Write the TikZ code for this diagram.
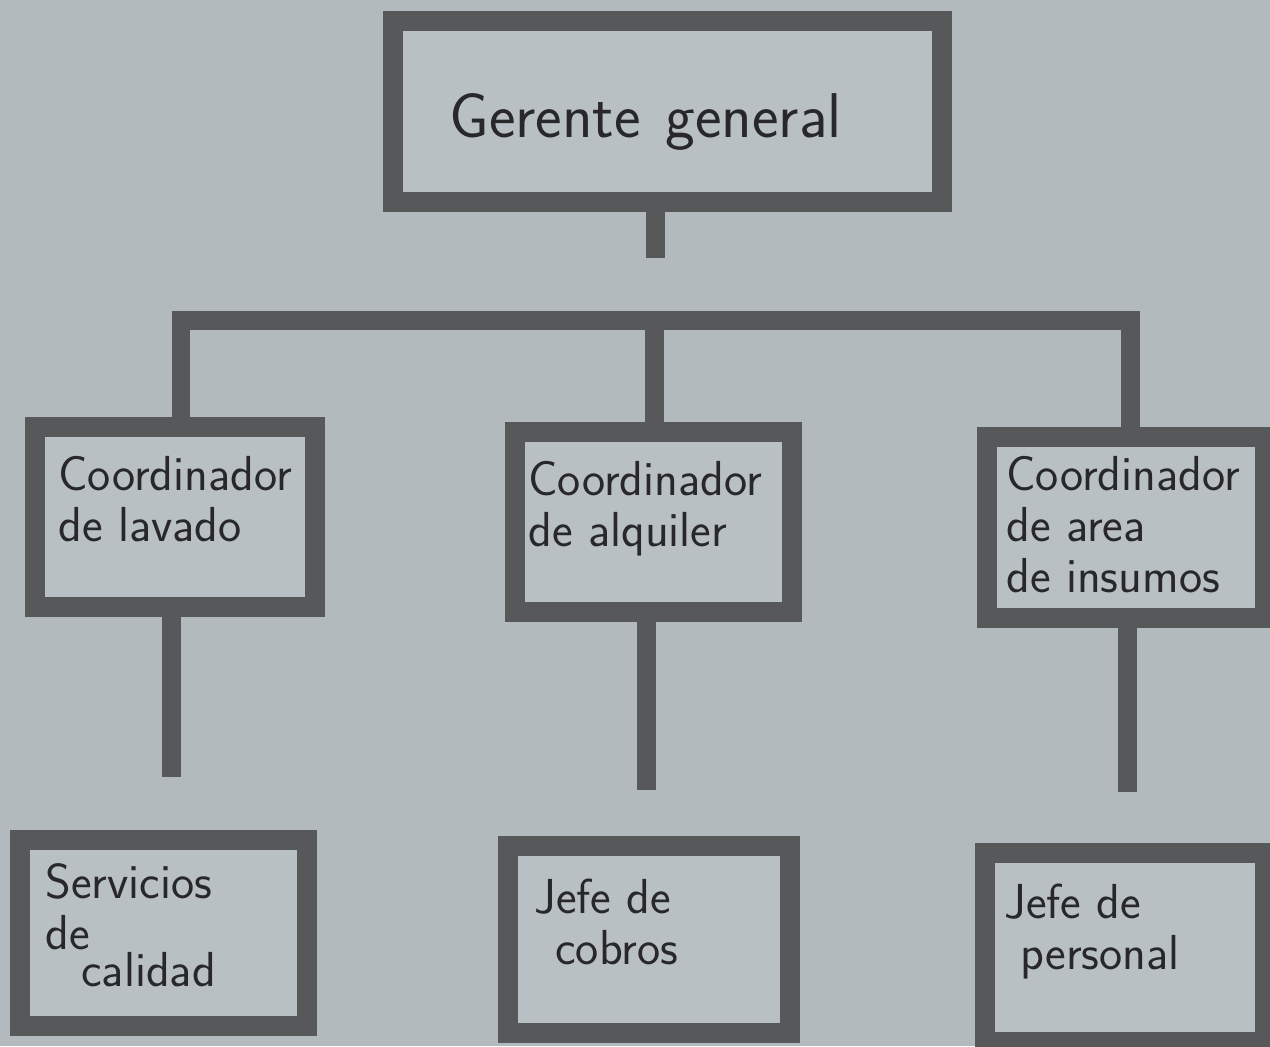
\documentclass[tikz,border=0pt]{standalone}
\usepackage{tikz}
\usetikzlibrary{positioning}
\definecolor{papel}{RGB}{178,186,190}
\definecolor{relleno}{RGB}{185,192,196}
\definecolor{marco}{RGB}{86,88,90}
\definecolor{tinta}{RGB}{40,40,42}

\begin{document}
\begin{tikzpicture}[x=0.02cm, y=-0.02cm,
		puesto/.style={draw=marco, fill=relleno, line width=0.4cm, inner sep=0pt},
		linea/.style={draw=marco, line width=0.38cm},
		texto/.style={text=tinta, font=\sffamily\fontsize{28}{29}\selectfont, align=left, inner sep=0pt, anchor=north west}]
		\fill[papel] (0,0) rectangle (1270,1046);
		\useasboundingbox (0,0) rectangle (1270,1046);
		\clip (0,0) rectangle (1270,1046);

		% cajas
		\node[puesto, minimum width=10.98cm, minimum height=3.62cm] (gerente) at (667.5,111.5) {};
		\node[puesto, minimum width=5.6cm, minimum height=3.6cm] (lavado) at (175,517) {};
		\node[puesto, minimum width=5.54cm, minimum height=3.6cm] (alquiler) at (653.5,522) {};
		\node[puesto, minimum width=5.56cm, minimum height=3.62cm] (insumos) at (1126,527.5) {};
		\node[puesto, minimum width=5.74cm, minimum height=3.72cm] (calidad) at (163.5,933) {};
		\node[puesto, minimum width=5.64cm, minimum height=3.74cm] (cobros) at (649,939.5) {};
		\node[puesto, minimum width=5.6cm, minimum height=3.78cm] (personal) at (1125,947.5) {};

		% lineas
		\coordinate (tallo) at (655,258);
		\coordinate (barra) at (654,320);
		\draw[linea] (gerente.south -| tallo) -- (tallo);
		\draw[linea] ([xshift=0.12cm]lavado.north) |- (barra) -| ([xshift=0.08cm]insumos.north);
		\draw[linea] (barra) -- (barra |- alquiler.north);

		\coordinate (fin1) at (171,777);
		\coordinate (fin2) at (646,790);
		\coordinate (fin3) at (1127,792);
		\draw[linea] (lavado.south -| fin1) -- (fin1);
		\draw[linea] (alquiler.south -| fin2) -- (fin2);
		\draw[linea] (insumos.south -| fin3) -- (fin3);

		% textos
		\node[texto, font=\sffamily\fontsize{36}{40}\selectfont, anchor=base west] (t0) at (449,137) {Gerente\hspace{0.5cm}general};
		\node[texto] (t1) at (58,456) {Coordinador\\de lavado};
		\node[texto] (t2) at (528,461) {Coordinador\\de alquiler};
		\node[texto] (t3) at (1006,456) {Coordinador\\de area\\de insumos};
		\node[texto] (t4) at (45,863) {Servicios\\de\\[-0.28cm]\hspace*{0.72cm}calidad};
		\node[texto] (t5) at (534,879) {Jefe de\\\hspace*{0.42cm}cobros};
		\node[texto] (t6) at (1004,884) {Jefe de\\\hspace*{0.32cm}personal};
	\end{tikzpicture}
\end{document}
